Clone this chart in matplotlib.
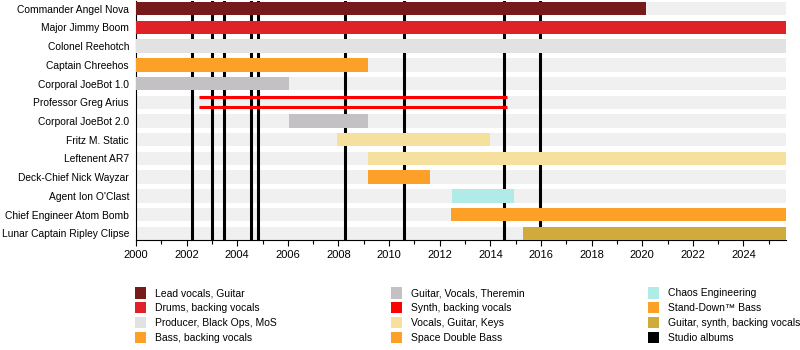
import matplotlib
matplotlib.use("Agg")
from matplotlib import pyplot as plt
from matplotlib.patches import Patch
from matplotlib.ticker import MultipleLocator

plt.rcParams['font.family'] = ['Liberation Sans', 'DejaVu Sans']

members = ["Commander Angel Nova", "Major Jimmy Boom", "Colonel Reehotch",
           "Captain Chreehos", "Corporal JoeBot 1.0", "Professor Greg Arius",
           "Corporal JoeBot 2.0", "Fritz M. Static", "Leftenent AR7",
           "Deck-Chief Nick Wayzar", "Agent Ion O'Clast",
           "Chief Engineer Atom Bomb", "Lunar Captain Ripley Clipse"]

roles = ["Lead vocals, Guitar", "Drums, backing vocals", "Producer, Black Ops, MoS",
         "Bass, backing vocals", "Guitar, Vocals, Theremin", "Synth, backing vocals",
         "Vocals, Guitar, Keys", "Space Double Bass", "Chaos Engineering",
         "Stand-Down\u2122 Bass", "Guitar, synth, backing vocals", "Studio albums"]
role_colors = ["#771a1c", "#de2228", "#e2e2e2", "#fca027", "#c3c1c3", "#ff0000",
               "#f5e09e", "#fca027", "#b1ebe7", "#fca027", "#d0ab3c", "#000000"]

# one entry per bar
bar_member = ["Commander Angel Nova", "Major Jimmy Boom", "Colonel Reehotch",
              "Captain Chreehos", "Corporal JoeBot 1.0", "Professor Greg Arius",
              "Corporal JoeBot 2.0", "Fritz M. Static", "Leftenent AR7",
              "Deck-Chief Nick Wayzar", "Agent Ion O'Clast",
              "Chief Engineer Atom Bomb", "Lunar Captain Ripley Clipse"]
bar_start = [2000.0, 2000.0, 2000.0, 2000.0, 2000.0, 2002.48, 2006.04, 2007.95,
             2009.16, 2009.16, 2012.49, 2012.45, 2015.29]
bar_end = [2020.16, 2025.68, 2025.68, 2009.17, 2006.04, 2014.64, 2009.17, 2014.0,
           2025.68, 2011.6, 2014.92, 2025.68, 2025.68]
bar_role = ["Lead vocals, Guitar", "Drums, backing vocals", "Producer, Black Ops, MoS",
            "Bass, backing vocals", "Guitar, Vocals, Theremin", "Synth, backing vocals",
            "Guitar, Vocals, Theremin", "Vocals, Guitar, Keys", "Vocals, Guitar, Keys",
            "Space Double Bass", "Chaos Engineering", "Stand-Down\u2122 Bass",
            "Guitar, synth, backing vocals"]

albums = [2002.2, 2003.0, 2003.46, 2004.54, 2004.82, 2008.25, 2010.58, 2014.53, 2015.95]

x_start, x_end = 2000.0, 2025.68
bar_h = 0.72

fig = plt.figure(figsize=(8, 3.5), dpi=100)
ax = fig.add_axes([0.17, 1 - 240 / 350, 0.8125, 239 / 350])

color_of = dict(zip(roles, role_colors))
row_of = {m: i for i, m in enumerate(members)}

# light background rows
ax.barh(range(len(members)), x_end - x_start, left=x_start, height=bar_h,
        color="#f0f0f0", zorder=1)

for yr in albums:
    ax.axvline(yr, color="black", lw=2.2, zorder=2)

for m, s, e, r in zip(bar_member, bar_start, bar_end, bar_role):
    y = row_of[m]
    if r == "Synth, backing vocals":
        ax.hlines([y - bar_h / 2 + 0.08, y + bar_h / 2 - 0.08], s, e,
                  color=color_of[r], lw=2.2, zorder=3)
    else:
        ax.barh(y, e - s, left=s, height=bar_h, color=color_of[r], zorder=3)

ax.set_xlim(x_start, x_end)
ax.set_ylim(len(members) - 1 + bar_h / 2, -bar_h / 2 - 0.05)
ax.set_yticks(range(len(members)))
ax.set_yticklabels(members, fontsize=7.4)
ax.tick_params(axis='y', length=0, pad=5)
ax.xaxis.set_major_locator(MultipleLocator(2))
ax.xaxis.set_minor_locator(MultipleLocator(1))
ax.tick_params(axis='x', labelsize=8, length=4, width=0.8)
ax.tick_params(axis='x', which='minor', length=3, width=0.8)
ax.spines['top'].set_visible(False)
ax.spines['right'].set_visible(False)

# legend, three columns of four
col_x = [131 / 800, 387 / 800, 644 / 800]
for c in range(3):
    handles = [Patch(facecolor=color_of[r], edgecolor='none')
               for r in roles[c * 4:(c + 1) * 4]]
    fig.legend(handles, roles[c * 4:(c + 1) * 4], loc='upper left',
               bbox_to_anchor=(col_x[c], 1 - 283 / 350), frameon=False,
               fontsize=7.5, handlelength=1.0, handleheight=1.3,
               handletextpad=0.9, labelspacing=0.33, borderaxespad=0)

fig.savefig("out.png", dpi=100)
